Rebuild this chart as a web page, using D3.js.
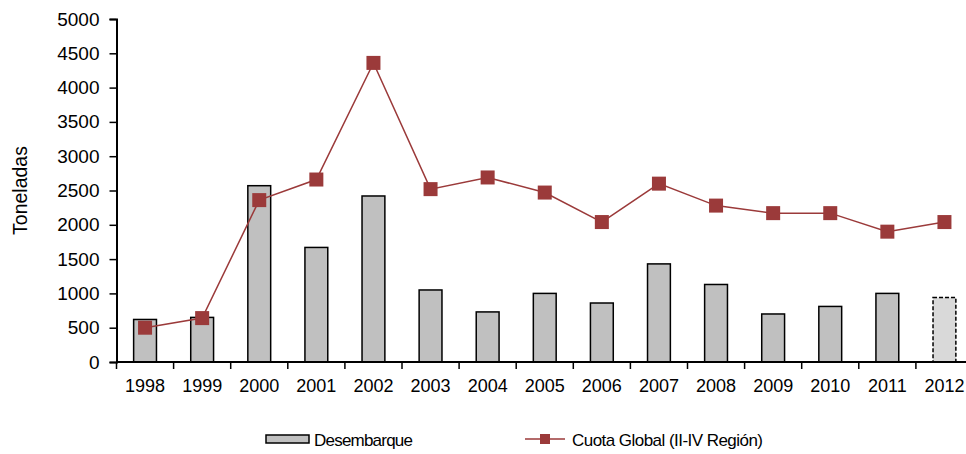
<!DOCTYPE html>
<html>
<head>
<meta charset="utf-8">
<script src="https://cdn.jsdelivr.net/npm/d3@7"></script>
<style>
  body { margin: 0; background: #fff; }
  text { font-family: "Liberation Sans", Arial, sans-serif; }
</style>
</head>
<body>
<script>
// Data
const years = ["1998", "1999", "2000", "2001", "2002", "2003", "2004", "2005",
               "2006", "2007", "2008", "2009", "2010", "2011", "2012"];
const desembarque = [620, 650, 2570, 1670, 2420, 1050, 730, 1000, 860, 1430, 1130, 700, 810, 1000, 940];
const cuota = [500, 640, 2360, 2660, 4360, 2520, 2690, 2470, 2040, 2600, 2280, 2170, 2170, 1900, 2040];
const yTicks = [0, 500, 1000, 1500, 2000, 2500, 3000, 3500, 4000, 4500, 5000];

let width = 966,
    height = 454;

let margin = { top: 19, bottom: 92, left: 116.5, right: -7 };

let svg = d3.select('body')
    .append('svg')
    .attr('width', width)
    .attr('height', height);

// Scales
let xScale = d3.scaleBand()
    .domain(years)
    .range([margin.left, width - margin.right])
    .paddingInner(0)
    .paddingOuter(0);

let yScale = d3.scaleLinear()
    .domain([0, 5000])
    .range([height - margin.bottom, margin.top]);

const barW = xScale.bandwidth() * 0.4;
const lineColor = "#9b3a3a";

// Bars
svg.selectAll("rect.bar")
    .data(desembarque)
    .enter().append("rect")
    .attr("class", "bar")
    .attr("x", (d, i) => xScale(years[i]) + (xScale.bandwidth() - barW) / 2)
    .attr("y", d => yScale(d))
    .attr("width", barW)
    .attr("height", d => yScale(0) - yScale(d))
    .style("fill", (d, i) => i === years.length - 1 ? "#d9d9d9" : "#c0c0c0")
    .style("stroke", "#000")
    .style("stroke-width", 1.5)
    .style("stroke-dasharray", (d, i) => i === years.length - 1 ? "4,2" : null);

// Y axis
let yAxis = svg.append('g')
    .attr('transform', `translate(${margin.left},0)`)
    .call(d3.axisLeft(yScale).tickValues(yTicks).tickSize(7).tickPadding(10).tickFormat(d3.format("d")));

// X axis (ticks between categories)
let xAxis = svg.append('g')
    .attr('transform', `translate(0, ${yScale(0)})`);
xAxis.append("line")
    .attr("x1", margin.left).attr("x2", width)
    .attr("stroke", "#000").attr("stroke-width", 2);
xAxis.selectAll("line.tick")
    .data(years)
    .enter().append("line")
    .attr("class", "tick")
    .attr("x1", d => xScale(d)).attr("x2", d => xScale(d))
    .attr("y1", 0).attr("y2", 7)
    .attr("stroke", "#000").attr("stroke-width", 1.5);
xAxis.selectAll("text")
    .data(years)
    .enter().append("text")
    .attr("x", d => xScale(d) + xScale.bandwidth() / 2)
    .attr("y", 30)
    .attr("text-anchor", "middle")
    .style("font-size", "18px")
    .text(d => d);

yAxis.select(".domain").attr("stroke-width", 2);
yAxis.selectAll(".tick line").attr("stroke-width", 1.5);
yAxis.selectAll(".tick text").style("font-size", "19px").attr("fill", "#000");

// Line + markers
let line = d3.line()
    .x((d, i) => xScale(years[i]) + xScale.bandwidth() / 2)
    .y(d => yScale(d));

svg.append("path")
    .datum(cuota)
    .attr("d", line)
    .attr("fill", "none")
    .attr("stroke", lineColor)
    .attr("stroke-width", 1.5);

const mk = 14;
svg.selectAll("rect.marker")
    .data(cuota)
    .enter().append("rect")
    .attr("class", "marker")
    .attr("x", (d, i) => xScale(years[i]) + xScale.bandwidth() / 2 - mk / 2)
    .attr("y", d => yScale(d) - mk / 2)
    .attr("width", mk)
    .attr("height", mk)
    .style("fill", lineColor);

// Y axis label
svg.append("text")
    .attr("transform", "rotate(-90)")
    .attr("x", -190.5)
    .attr("y", 27)
    .style("text-anchor", "middle")
    .style("font-size", "19.5px")
    .text("Toneladas");

// Legend
let legend = svg.append("g").attr("transform", "translate(0, 439)");
legend.append("rect")
    .attr("x", 266).attr("y", -4).attr("width", 43).attr("height", 8)
    .style("fill", "#c0c0c0").style("stroke", "#000").style("stroke-width", 1.5);
legend.append("text")
    .attr("x", 314).attr("y", 6.5)
    .style("font-size", "17px")
    .attr("textLength", 99)
    .text("Desembarque");
legend.append("line")
    .attr("x1", 525).attr("x2", 565)
    .attr("stroke", lineColor).attr("stroke-width", 1.5);
legend.append("rect")
    .attr("x", 540).attr("y", -5).attr("width", 10).attr("height", 10)
    .style("fill", lineColor);
legend.append("text")
    .attr("x", 572).attr("y", 6.5)
    .style("font-size", "17px")
    .attr("textLength", 191)
    .text("Cuota Global (II-IV Región)");
</script>
</body>
</html>
